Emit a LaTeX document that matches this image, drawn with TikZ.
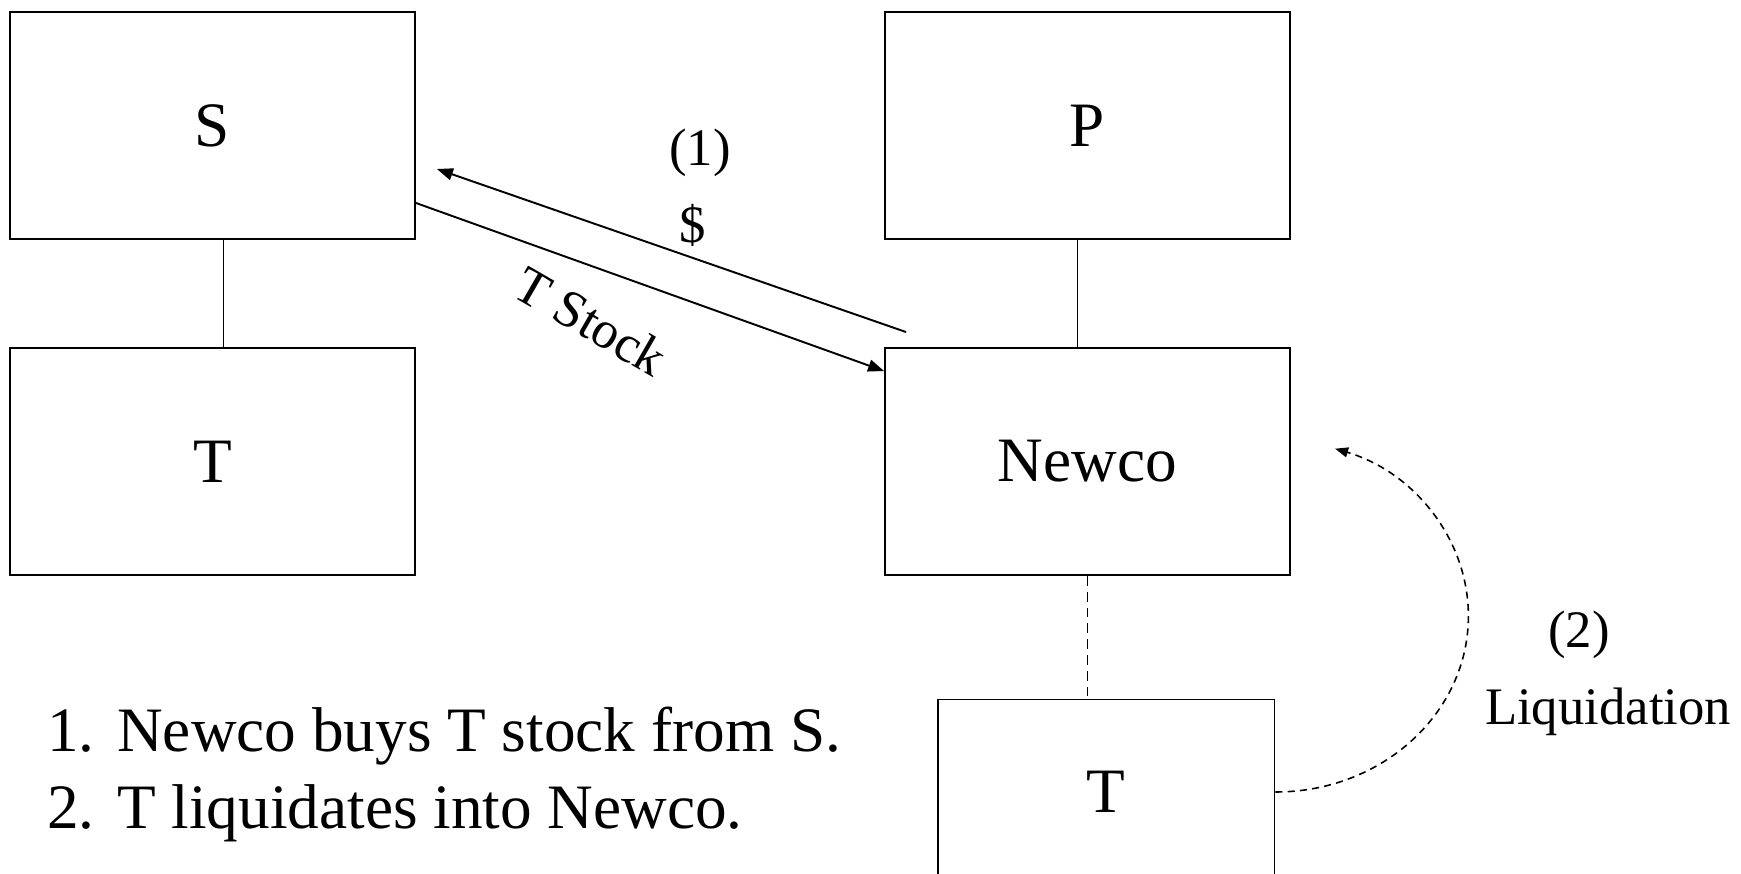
\documentclass[tikz,border=0pt]{standalone}
\usepackage{fontspec}
\setmainfont{Liberation Serif}
\usetikzlibrary{positioning, arrows.meta}

\begin{document}
\begin{tikzpicture}[x = 0.02cm, y = -0.02cm,
        box/.style = {shape = rectangle, draw = black, line width = 1.1pt, minimum width = 8.1cm, minimum height = 4.54cm, font = \fontsize{36}{40}\selectfont},
        lbl/.style = {font = \fontsize{30}{34}\selectfont},
        stepline/.style = {anchor = base west, inner sep = 0pt, font = \fontsize{36}{44}\selectfont},
        flow/.style = {line width = 1.1pt, -{Triangle[length = 0.32cm, width = 0.24cm]}}]
    \useasboundingbox (0, 0) rectangle (1741, 874);

    \node [box] (S) at (212.5, 125.5) {S};
    \node [box] (T) at (212.5, 461.5) {T};
    \node [box] (P) at (1087.5, 125.5) {P};
    \node [box] (newco) at (1087.5, 461.5) {Newco};
    \node [box, minimum width = 6.74cm, minimum height = 3.7cm] (Tn) at (1106, 792) {T};

    \node [lbl] (one) at (700, 153) {(1)};
    \node [lbl] (cash) at (693, 225) {\$};
    \node [lbl, rotate = -30] (stock) at (591, 321) {T Stock};
    \node [lbl] (two) at (1579, 635) {(2)};
    \node [lbl] (liq) at (1608, 712) {Liquidation};

    \node [stepline] (stepone) at (47, 751) {\makebox[1.4cm][l]{1.}Newco buys T stock from S.};
    \node [stepline] (steptwo) at (47, 828) {\makebox[1.4cm][l]{2.}T liquidates into Newco.};

    \draw [line width = 1.1pt] ([xshift = 0.22cm]S.south) -- ([xshift = 0.22cm]T.north);
    \draw [line width = 1.1pt] ([xshift = -0.2cm]P.south) -- ([xshift = -0.2cm]newco.north);
    \draw [line width = 0.9pt, dash pattern = on 5.6pt off 3.4pt] (newco.south) -- (newco.south |- Tn.north);

    \draw [flow] ([shift = {(0.44cm, 0.3cm)}]newco.north west) -- ([shift = {(0.42cm, -0.87cm)}]S.east);
    \draw [flow] ([yshift = -1.55cm]S.east) -- ([yshift = -0.48cm]newco.north west);
    \draw [line width = 0.9pt, dash pattern = on 4pt off 3pt, -{Triangle[length = 0.26cm, width = 0.2cm]}] (Tn.east) arc [start angle = -90, end angle = 72, x radius = 3.86cm, y radius = 3.52cm];
\end{tikzpicture}
\end{document}
